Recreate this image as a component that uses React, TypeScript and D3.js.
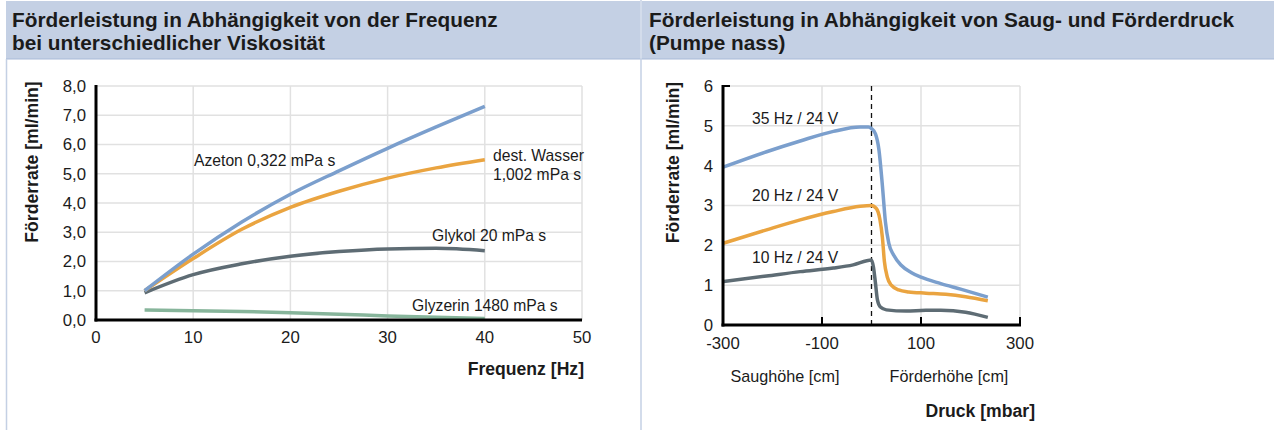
import React from 'react';
import * as d3 from 'd3';

// left chart: Förderrate vs Frequenz
const freqHz = [5, 10, 15, 20, 25, 30, 35, 40];
const azeton = [1.0, 2.25, 3.35, 4.3, 5.1, 5.87, 6.6, 7.3];
const wasser = [1.0, 2.1, 3.1, 3.85, 4.4, 4.85, 5.2, 5.48];
const glykol = [0.93, 1.55, 1.92, 2.18, 2.34, 2.43, 2.45, 2.37];
const glyzerin = [0.34, 0.32, 0.29, 0.25, 0.2, 0.14, 0.09, 0.05];
const freqTicks = [0, 10, 20, 30, 40, 50];
const rateTicksL = [0, 1, 2, 3, 4, 5, 6, 7, 8];

// right chart: Förderrate vs Druck
const druck35 = [-300, -212, -144, -77, -23, -6, 0, 8, 15, 22, 28, 35, 45, 60, 80, 100, 140, 180, 235];
const rate35 = [3.96, 4.35, 4.62, 4.86, 4.97, 4.97, 4.93, 4.8, 4.4, 3.5, 2.6, 2.05, 1.75, 1.5, 1.32, 1.2, 1.04, 0.9, 0.7];
const druck20 = [-300, -212, -144, -77, -23, 0, 10, 17, 22, 26, 32, 40, 55, 75, 110, 150, 190, 235];
const rate20 = [2.05, 2.39, 2.64, 2.85, 2.98, 3.0, 2.92, 2.65, 2.2, 1.6, 1.2, 1.0, 0.88, 0.83, 0.8, 0.77, 0.71, 0.61];
const druck10 = [-300, -212, -144, -77, -37, 0, 4, 8, 12, 18, 30, 70, 110, 140, 190, 235];
const rate10 = [1.09, 1.23, 1.34, 1.43, 1.51, 1.63, 1.45, 1.05, 0.63, 0.45, 0.38, 0.35, 0.37, 0.37, 0.32, 0.19];
const druckTicks = [-300, -100, 100, 300];
const rateTicksR = [0, 1, 2, 3, 4, 5, 6];

const FONT = '"Liberation Sans", Arial, Helvetica, sans-serif';
const BLUE = '#7b9fcd';
const ORANGE = '#eaa440';
const SLATE = '#5e6c74';
const GREEN = '#87b59b';
const GRID = '#e1e1e1';
const HEAD = '#c4d0e4';
const INK = '#1b1b1b';

const TICK_FS = 16.8;
const LABEL_FS = 15.7;
const TITLE_FS = 17.6;

const fmtComma = (v: number) => v.toFixed(1).replace('.', ',');

function LeftChart() {
  const x = d3.scaleLinear().domain([0, 50]).range([96, 582]);
  const y = d3.scaleLinear().domain([0, 8]).range([320, 86]);
  const line = d3
    .line<[number, number]>()
    .x((d) => x(d[0]))
    .y((d) => y(d[1]))
    .curve(d3.curveMonotoneX);
  const series = [
    { vals: glyzerin, color: GREEN },
    { vals: glykol, color: SLATE },
    { vals: wasser, color: ORANGE },
    { vals: azeton, color: BLUE },
  ];
  return (
    <g fontFamily={FONT}>
      {rateTicksL.slice(1).map((t) => (
        <line key={'h' + t} x1={x(0)} x2={x(50)} y1={y(t)} y2={y(t)} stroke={GRID} strokeWidth={1.5} />
      ))}
      {freqTicks.slice(1).map((t) => (
        <line key={'v' + t} x1={x(t)} x2={x(t)} y1={y(0)} y2={y(8)} stroke={GRID} strokeWidth={1.5} />
      ))}
      {series.map((s, i) => (
        <path
          key={i}
          d={line(freqHz.map((f, j) => [f, s.vals[j]] as [number, number])) || ''}
          fill="none"
          stroke={s.color}
          strokeWidth={3.5}
        />
      ))}
      <line x1={x(0)} x2={x(0)} y1={y(8) - 1} y2={y(0) + 1.5} stroke="#000" strokeWidth={3} />
      <line x1={x(0) - 1.5} x2={x(50)} y1={y(0)} y2={y(0)} stroke="#000" strokeWidth={3} />
      {rateTicksL.map((t) => (
        <text key={'yl' + t} x={86} y={y(t)} dy="0.35em" textAnchor="end" fontSize={TICK_FS} fill={INK}>
          {fmtComma(t)}
        </text>
      ))}
      {freqTicks.map((t) => (
        <text key={'xl' + t} x={x(t)} y={y(0) + 17} dy="0.35em" textAnchor="middle" fontSize={TICK_FS} fill={INK}>
          {t}
        </text>
      ))}
      <text x={584} y={369} dy="0.35em" textAnchor="end" fontSize={TITLE_FS} fontWeight={600} fill={INK}>
        Frequenz [Hz]
      </text>
      <text
        transform={`translate(32,${(y(8) + y(0)) / 2 - 41}) rotate(-90)`}
        textAnchor="middle"
        dy="0.35em"
        fontSize={TITLE_FS}
        fontWeight={600}
        fill={INK}
      >
        Förderrate [ml/min]
      </text>
      <g fontSize={LABEL_FS} fill={INK}>
        <text x={194} y={161} dy="0.35em">Azeton 0,322 mPa s</text>
        <text x={493} y={156} dy="0.35em">dest. Wasser</text>
        <text x={493} y={175} dy="0.35em">1,002 mPa s</text>
        <text x={432} y={236} dy="0.35em">Glykol 20 mPa s</text>
        <text x={412} y={306} dy="0.35em">Glyzerin 1480 mPa s</text>
      </g>
    </g>
  );
}

function RightChart() {
  const x = d3.scaleLinear().domain([-300, 300]).range([723, 1020]);
  const y = d3.scaleLinear().domain([0, 6]).range([325, 86]);
  const line = d3
    .line<[number, number]>()
    .x((d) => x(d[0]))
    .y((d) => y(d[1]))
    .curve(d3.curveMonotoneX);
  const series = [
    { xs: druck10, ys: rate10, color: SLATE },
    { xs: druck20, ys: rate20, color: ORANGE },
    { xs: druck35, ys: rate35, color: BLUE },
  ];
  return (
    <g fontFamily={FONT}>
      {rateTicksR.slice(1).map((t) => (
        <line key={'h' + t} x1={x(-300)} x2={x(300)} y1={y(t)} y2={y(t)} stroke={GRID} strokeWidth={1.5} />
      ))}
      {druckTicks.slice(1).map((t) => (
        <line key={'v' + t} x1={x(t)} x2={x(t)} y1={y(0)} y2={y(6)} stroke={GRID} strokeWidth={1.5} />
      ))}
      <line x1={x(0)} x2={x(0)} y1={y(6)} y2={y(0)} stroke="#111" strokeWidth={1.3} strokeDasharray="5,4" />
      {series.map((s, i) => (
        <path
          key={i}
          d={line(s.xs.map((v, j) => [v, s.ys[j]] as [number, number])) || ''}
          fill="none"
          stroke={s.color}
          strokeWidth={3.5}
        />
      ))}
      <line x1={x(-300)} x2={x(-300)} y1={y(6) - 1} y2={y(0) + 1.5} stroke="#000" strokeWidth={3} />
      <line x1={x(-300) - 1.5} x2={x(300) + 1} y1={y(0)} y2={y(0)} stroke="#000" strokeWidth={3} />
      <line x1={x(-300)} x2={x(-300) + 7} y1={y(6)} y2={y(6)} stroke="#000" strokeWidth={2} />
      {druckTicks.slice(1).map((t) => (
        <line key={'tk' + t} x1={x(t)} x2={x(t)} y1={y(0)} y2={y(0) - 8} stroke="#000" strokeWidth={2} />
      ))}
      {rateTicksR.map((t) => (
        <text key={'yl' + t} x={713} y={y(t)} dy="0.35em" textAnchor="end" fontSize={TICK_FS} fill={INK}>
          {t}
        </text>
      ))}
      {druckTicks.map((t) => (
        <text key={'xl' + t} x={x(t)} y={y(0) + 18} dy="0.35em" textAnchor="middle" fontSize={TICK_FS} fill={INK}>
          {t}
        </text>
      ))}
      <text x={785} y={376} dy="0.35em" textAnchor="middle" fontSize={16.2} fill={INK}>
        Saughöhe [cm]
      </text>
      <text x={949} y={376} dy="0.35em" textAnchor="middle" fontSize={16.2} fill={INK}>
        Förderhöhe [cm]
      </text>
      <text x={1035} y={411} dy="0.35em" textAnchor="end" fontSize={TITLE_FS} fontWeight={600} fill={INK}>
        Druck [mbar]
      </text>
      <text
        transform={`translate(673,${(y(6) + y(0)) / 2 - 43}) rotate(-90)`}
        textAnchor="middle"
        dy="0.35em"
        fontSize={TITLE_FS}
        fontWeight={600}
        fill={INK}
      >
        Förderrate [ml/min]
      </text>
      <g fontSize={LABEL_FS} fill={INK}>
        <text x={752} y={119} dy="0.35em">35 Hz / 24 V</text>
        <text x={752} y={196} dy="0.35em">20 Hz / 24 V</text>
        <text x={752} y={258} dy="0.35em">10 Hz / 24 V</text>
      </g>
    </g>
  );
}

export default function App() {
  return (
    <svg
      width={1274}
      height={430}
      style={{ position: 'absolute', left: 0, top: 0, display: 'block', background: '#fff' }}
    >
      <rect x={6} y={1} width={634} height={58} fill={HEAD} />
      <rect x={642} y={1} width={632} height={58} fill={HEAD} />
      <line x1={6} x2={1274} y1={59} y2={59} stroke="#a9bad8" strokeWidth={1} />
      <line x1={6.5} x2={6.5} y1={59} y2={430} stroke={HEAD} strokeWidth={1.5} />
      <line x1={641} x2={641} y1={0} y2={430} stroke={HEAD} strokeWidth={1.5} />
      <g fontFamily={FONT} fontWeight={700} fontSize={20.8} fill={INK}>
        <text x={12} y={27}>Förderleistung in Abhängigkeit von der Frequenz</text>
        <text x={12} y={50}>bei unterschiedlicher Viskosität</text>
        <text x={649} y={27}>Förderleistung in Abhängigkeit von Saug- und Förderdruck</text>
        <text x={649} y={50}>(Pumpe nass)</text>
      </g>
      <LeftChart />
      <RightChart />
    </svg>
  );
}
